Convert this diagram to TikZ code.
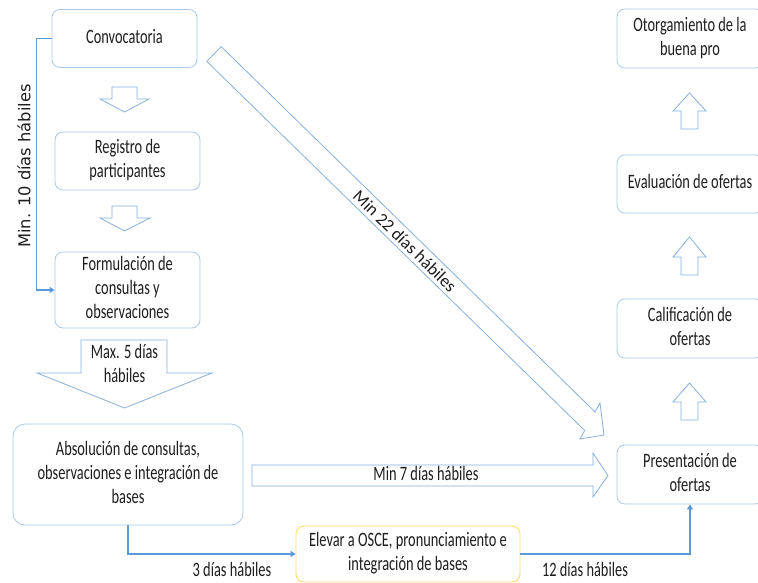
\documentclass[tikz,border=0pt]{standalone}
\usepackage{fontspec}
\setmainfont{Carlito}
\newfontfamily\dejavu{DejaVu Sans}
\usepackage{graphicx}
\usetikzlibrary{arrows.meta}
\definecolor{boxc}{HTML}{A9C9EC}
\definecolor{arrc}{HTML}{85B0E0}
\definecolor{conc}{HTML}{5B9BD5}
\definecolor{yelc}{HTML}{FFD966}
\definecolor{txt}{HTML}{1E1E1E}
\newcommand\vs[1]{\scalebox{1}[1.42]{\begin{tabular}{@{}c@{}}#1\end{tabular}}}
\tikzset{
 every node/.style={font=\fontsize{14.4}{16.9}\selectfont, text=txt},
 box/.style={draw=boxc, line width=0.8pt, rounded corners=8pt, fill=white, inner sep=0pt, align=center},
 blk/.style={draw=arrc, line width=0.8pt, fill=white, line join=miter},
 con/.style={draw=conc, line width=1.5pt, -{Triangle[length=5pt,width=6pt]}},
}
\begin{document}
\begin{tikzpicture}[x=1pt,y=-1pt]
\useasboundingbox (0,0) rectangle (758,583);
\clip (0,0) rectangle (758,583);
% left column
\node[box, minimum width=145pt, minimum height=58pt] (conv) at (124.5,38.5) {\vs{Convocatoria}};
\node[box, minimum width=145pt, minimum height=58pt] (reg) at (127.5,161) {\vs{Registro de\\participantes}};
\node[box, minimum width=145pt, minimum height=76pt] (form) at (127.5,290) {\vs{Formulación de\\consultas y\\observaciones}};
\node[box, minimum width=230pt, minimum height=101pt, rounded corners=12pt] (abs) at (128,474.5) {\vs{Absolución de consultas,\\observaciones e integración de\\bases}};
\node[box, draw=yelc, minimum width=224pt, minimum height=56pt] (elev) at (408,554) {\vs{Elevar a OSCE, pronunciamiento e\\integración de bases}};
% right column
\node[box, minimum width=146pt, minimum height=59pt] (pres) at (690,474.5) {\vs{Presentación de\\ofertas}};
\node[box, minimum width=146pt, minimum height=59pt] (cal) at (690,328.5) {\vs{Calificación de\\ofertas}};
\node[box, minimum width=146pt, minimum height=58pt] (eva) at (690,184) {\vs{Evaluación de ofertas}};
\node[box, minimum width=146pt, minimum height=59pt] (oto) at (690,38.5) {\vs{Otorgamiento de la\\buena pro}};
% block arrows left
\draw[blk] (112,87) -- (137,87) -- (137,99) -- (149,99) -- (124.5,112) -- (100,99) -- (112,99) -- cycle;
\draw[blk] (112,206) -- (137,206) -- (137,218) -- (150,218) -- (124.5,231) -- (100,218) -- (112,218) -- cycle;
\draw[blk] (81,340) -- (167,340) -- (167,373) -- (212,373) -- (124.5,408) -- (37,373) -- (81,373) -- cycle;
\node (maxt) at (124.5,366) {\vs{Max. 5 días\\hábiles}};
% block arrows right (up)
\foreach \t/\b/\e in {93/111/129, 237/257/275, 383/402/420}{
  \draw[blk] (681,\e) -- (698,\e) -- (698,\b) -- (706,\b) -- (689.5,\t) -- (673,\b) -- (681,\b) -- cycle;
}
% Min 7 arrow
\draw[blk] (252,465) -- (593,465) -- (593,453) -- (608,475.5) -- (593,497) -- (593,486) -- (252,486) -- cycle;
\node (min7) at (426,475.5) {\vs{Min 7 días hábiles}};
% diagonal arrow
\draw[blk] (221.2,46.6) -- (595.1,411.9) -- (600,403) -- (604,435) -- (580,439) -- (584.7,430.5) -- (206.8,61.4) -- cycle;
\node[rotate=-44.3, font=\fontsize{17.5}{20}\selectfont] (min22) at (405,241) {Min 22 días hábiles};
% left label
\node[rotate=90, font=\dejavu\fontsize{16.3}{19}\selectfont] (min10) at (24,166) {Min. 10 días hábiles};
% connectors
\draw[con] (conv.west) -- ++(-15,0) |- (form.west);
\draw[con] (abs.south) |- (elev.west);
\draw[con] (elev.east) -| (pres.south);
\node (l3) at (232,572) {\vs{3 días hábiles}};
\node (l12) at (585,572) {\vs{12 días hábiles}};
\end{tikzpicture}
\end{document}
